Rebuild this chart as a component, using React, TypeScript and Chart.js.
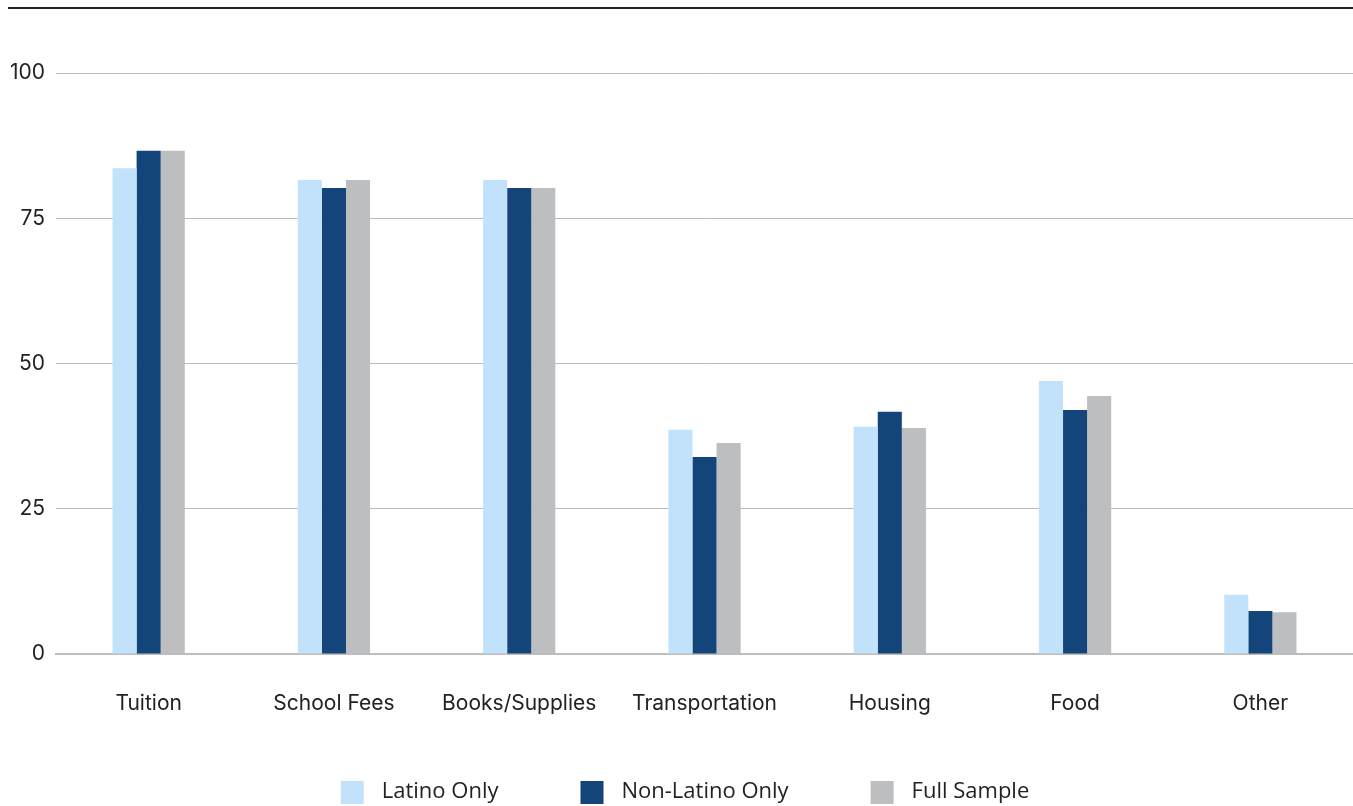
import React, { useEffect, useRef } from "react";
import { Chart, registerables } from "chart.js";

Chart.register(...registerables);

const categories = ["Tuition", "School Fees", "Books/Supplies", "Transportation", "Housing", "Food", "Other"];
const latinoOnly = [83.6, 81.6, 81.6, 38.6, 39.1, 47.0, 10.2];
const nonLatinoOnly = [86.6, 80.2, 80.2, 33.9, 41.7, 42.0, 7.4];
const fullSample = [86.6, 81.6, 80.2, 36.3, 38.9, 44.4, 7.2];
const yTicks = [0, 25, 50, 75, 100];
const seriesColors = ["#C2E2FC", "#14457A", "#BDBEC0"];

function makeSwatch(color: string): HTMLCanvasElement {
  const c = document.createElement("canvas");
  c.width = 47;
  c.height = 23;
  const ctx = c.getContext("2d");
  if (ctx) {
    ctx.fillStyle = color;
    ctx.fillRect(17, 0, 23, 23);
  }
  return c;
}

export default function App() {
  const ref = useRef<HTMLCanvasElement | null>(null);

  useEffect(() => {
    if (!ref.current) return;
    const swatches = seriesColors.map(makeSwatch);
    const chart = new Chart(ref.current, {
      type: "bar",
      data: {
        labels: categories,
        datasets: [
          { label: "Latino Only", data: latinoOnly, backgroundColor: seriesColors[0] },
          { label: "Non-Latino Only", data: nonLatinoOnly, backgroundColor: seriesColors[1] },
          { label: "Full Sample", data: fullSample, backgroundColor: seriesColors[2] },
        ],
      },
      options: {
        animation: false,
        responsive: false,
        maintainAspectRatio: false,
        layout: { padding: { top: 73, right: 0, bottom: 0, left: 0 } },
        datasets: {
          bar: { categoryPercentage: 0.39, barPercentage: 1.0 },
        },
        scales: {
          x: {
            afterFit: (scale: any) => {
              scale.height = 62;
            },
            grid: { display: false, drawTicks: false },
            border: { display: true, color: "#BDBDBD", width: 2 },
            ticks: {
              color: "#222",
              font: { family: "Inter", size: 21 },
              padding: 37,
              maxRotation: 0,
            },
          },
          y: {
            min: 0,
            max: 100,
            afterFit: (scale: any) => {
              scale.width = 56;
            },
            afterBuildTicks: (scale: any) => {
              scale.ticks = yTicks.map((v) => ({ value: v }));
            },
            grid: { color: "#BBBBBB", lineWidth: 1, drawTicks: false },
            border: { display: false },
            ticks: {
              color: "#222",
              font: { family: "Inter", size: 21 },
              padding: 11,
            },
          },
        },
        plugins: {
          tooltip: { enabled: false },
          legend: {
            position: "bottom",
            labels: {
              usePointStyle: true,
              pointStyleWidth: 47,
              boxHeight: 23,
              padding: 65,
              color: "#222",
              font: { family: "Open Sans", size: 22 },
              generateLabels: (ch: any) => {
                const base = Chart.defaults.plugins.legend.labels.generateLabels(ch);
                return base.map((item: any, i: number) => ({ ...item, pointStyle: swatches[i] }));
              },
            },
          },
        },
      },
    });
    return () => chart.destroy();
  }, []);

  return (
    <div style={{ position: "absolute", left: 0, top: 0, width: 1353, height: 806, overflow: "hidden", background: "#fff" }}>
      <div style={{ position: "absolute", left: 8, top: 7, width: 1345, height: 1.5, background: "#222" }} />
      <canvas ref={ref} width={1353} height={813} style={{ position: "absolute", left: 0, top: 0, width: 1353, height: 813 }} />
    </div>
  );
}
